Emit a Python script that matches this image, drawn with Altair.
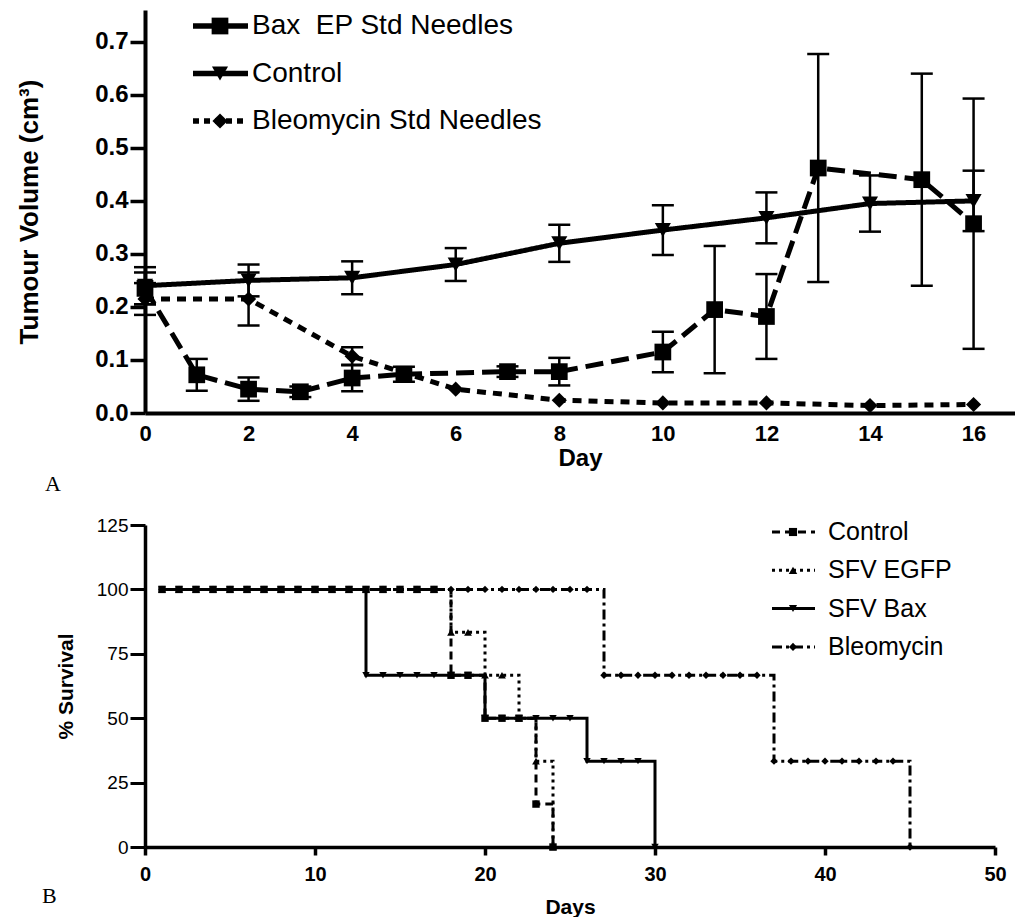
import altair as alt
import pandas as pd

FONT = "Liberation Sans"

# ---------------- Panel A : tumour volume ----------------
top_series = ["Bax EP Std Needles", "Control", "Bleomycin Std Needles"]
top_labels = ["\u00a0Bax\u00a0 EP Std Needles", "Control", "Bleomycin Std Needles"]

bax_days = [0, 1, 2, 3, 4, 5, 7, 8, 10, 11, 12, 13, 15, 16]
bax_vol = [0.235, 0.072, 0.045, 0.040, 0.066, 0.073, 0.078, 0.078, 0.115, 0.195, 0.182, 0.462, 0.440, 0.357]
bax_err = [0.030, 0.030, 0.022, 0.010, 0.025, 0.014, 0.010, 0.026, 0.038, 0.120, 0.080, 0.215, 0.200, 0.236]

ctrl_days = [0, 2, 4, 6, 8, 10, 12, 14, 16]
ctrl_vol = [0.240, 0.250, 0.255, 0.280, 0.320, 0.345, 0.368, 0.395, 0.400]
ctrl_err = [0.035, 0.030, 0.031, 0.031, 0.035, 0.047, 0.048, 0.053, 0.057]

bleo_days = [0, 2, 4, 6, 8, 10, 12, 14, 16]
bleo_vol = [0.215, 0.215, 0.107, 0.045, 0.024, 0.019, 0.019, 0.014, 0.016]
bleo_err = [0.030, 0.050, 0.017, 0.0, 0.0, 0.0, 0.0, 0.0, 0.0]

top_x_ticks = [0, 2, 4, 6, 8, 10, 12, 14, 16]
top_y_ticks = [0.0, 0.1, 0.2, 0.3, 0.4, 0.5, 0.6, 0.7]

# ---------------- Panel B : survival ----------------
surv_series = ["Control", "SFV EGFP", "SFV Bax", "Bleomycin"]
ctrl_t = [1, 18, 20, 23, 24]
ctrl_s = [100, 66.67, 50, 16.67, 0]
egfp_t = [1, 18, 20, 22, 23, 24]
egfp_s = [100, 83.33, 66.67, 50, 33.33, 0]
sbax_t = [1, 13, 20, 26, 30]
sbax_s = [100, 66.67, 50, 33.33, 0]
sbleo_t = [1, 27, 37, 45]
sbleo_s = [100, 66.67, 33.33, 0]

bot_x_ticks = [0, 10, 20, 30, 40, 50]
bot_y_ticks = [0, 25, 50, 75, 100, 125]

# ---------------- styles ----------------
dashA = {top_series[0]: [18, 8], top_series[1]: [1, 0], top_series[2]: [9, 7]}
legdashA = {top_series[0]: [1, 0], top_series[1]: [1, 0], top_series[2]: [6, 5]}
shapeA = {top_series[0]: ("square", 280), top_series[1]: ("triangle-down", 260),
          top_series[2]: ("diamond", 230)}
dashB = {"Control": [8, 5], "SFV EGFP": [3, 4], "SFV Bax": [1, 0], "Bleomycin": [10, 4, 3, 4]}
shapeB = {"Control": ("square", 55), "SFV EGFP": ("triangle-up", 60),
          "SFV Bax": ("triangle-down", 55), "Bleomycin": ("diamond", 55)}

# ---------------- tables ----------------
rows = []
for name, ds, vs, es in [
    (top_series[2], bleo_days, bleo_vol, bleo_err),
    (top_series[0], bax_days, bax_vol, bax_err),
    (top_series[1], ctrl_days, ctrl_vol, ctrl_err),
]:
    for d, v, e in zip(ds, vs, es):
        rows.append(dict(series=name, day=d, vol=v, lo=v - e, hi=v + e, err=e))
top_df = pd.DataFrame(rows)

step_rows, mark_rows = [], []
for name, ts, ss in [
    ("Bleomycin", sbleo_t, sbleo_s),
    ("SFV Bax", sbax_t, sbax_s),
    ("SFV EGFP", egfp_t, egfp_s),
    ("Control", ctrl_t, ctrl_s),
]:
    for t, s in zip(ts, ss):
        step_rows.append(dict(series=name, day=t, surv=s))
    for d in range(ts[0], ts[-1] + 1):
        idx = max(i for i, t in enumerate(ts) if t <= d)
        mark_rows.append(dict(series=name, day=d, surv=ss[idx]))
step_df = pd.DataFrame(step_rows)
mark_df = pd.DataFrame(mark_rows)


def legend_rows(names, labels, dashes, shapes, x0, x1, xm, xt, y0, dy, lw, fs, msize_scale):
    out = []
    for i, (n, lab) in enumerate(zip(names, labels)):
        y = y0 + i * dy
        ldf = pd.DataFrame({"label": [lab]})
        out.append(alt.Chart(ldf).mark_rule(color="black", strokeWidth=lw, strokeDash=dashes[n]).encode(
            x=alt.value(x0), x2=alt.value(x1), y=alt.value(y)))
        shp, sz = shapes[n]
        out.append(alt.Chart(ldf).mark_point(filled=True, color="black", opacity=1, shape=shp,
                                             size=sz * msize_scale).encode(
            x=alt.value(xm), y=alt.value(y)))
        out.append(alt.Chart(ldf).mark_text(align="left", baseline="middle", font=FONT, fontSize=fs,
                                            color="black").encode(
            x=alt.value(xt), y=alt.value(y), text="label:N"))
    return out


# ---------------- panel A chart ----------------
xA_scale = alt.Scale(domain=[0, 16.8], nice=False)
yA_scale = alt.Scale(domain=[0, 0.76], nice=False)
axA_x = alt.Axis(values=top_x_ticks, title="Day", ticks=False, tickSize=0, labelPadding=10,
                 labelFontSize=22, labelFontWeight="bold", titleFontSize=24, titleFontWeight="bold",
                 titlePadding=2, domainWidth=4, labelFlush=False, labelOverlap=False)
axA_y = alt.Axis(values=top_y_ticks, format=".1f", title="Tumour Volume (cm\u00b3)", tickSize=15,
                 tickWidth=3.5, labelPadding=2, labelFontSize=24, labelFontWeight="bold",
                 titleFontSize=26, titleFontWeight="bold", titlePadding=52, domainWidth=4,
                 labelFlush=False, labelOverlap=False)


def XA(f):
    return alt.X(f"{f}:Q", scale=xA_scale, axis=axA_x)


def YA(f):
    return alt.Y(f"{f}:Q", scale=yA_scale, axis=axA_y)


baseA = alt.Chart(top_df)
linesA = baseA.mark_line(color="black", strokeWidth=5).encode(
    x=XA("day"), y=YA("vol"),
    strokeDash=alt.StrokeDash("series:N",
                              scale=alt.Scale(domain=top_series, range=[dashA[s] for s in top_series]),
                              legend=None),
    detail="series:N",
)
errA = baseA.transform_filter("datum.err > 0").mark_rule(color="black", strokeWidth=2.5).encode(
    x=XA("day"), y=YA("lo"), y2="hi:Q")
capLoA = baseA.transform_filter("datum.err > 0").mark_tick(
    color="black", orient="horizontal", size=22, thickness=2.5, opacity=1).encode(x=XA("day"), y=YA("lo"))
capHiA = baseA.transform_filter("datum.err > 0").mark_tick(
    color="black", orient="horizontal", size=22, thickness=2.5, opacity=1).encode(x=XA("day"), y=YA("hi"))
ptsA = [
    baseA.transform_filter(alt.datum.series == s).mark_point(
        filled=True, color="black", opacity=1, shape=shapeA[s][0], size=shapeA[s][1]).encode(
        x=XA("day"), y=YA("vol"))
    for s in [top_series[2], top_series[0], top_series[1]]
]
legA = legend_rows(top_series, top_labels, legdashA, shapeA, x0=48, x1=103, xm=75, xt=107,
                   y0=16, dy=47.5, lw=5.5, fs=28, msize_scale=1.0)

chartA = alt.layer(linesA, errA, capLoA, capHiA, *ptsA, *legA).properties(
    width=870, height=403,
    title=alt.TitleParams("A", orient="bottom", anchor="start", frame="group",
                          font="Liberation Serif", fontSize=22, fontWeight="normal",
                          color="black", dx=-100, offset=4),
)

# ---------------- panel B chart ----------------
xB_scale = alt.Scale(domain=[0, 50], nice=False)
yB_scale = alt.Scale(domain=[0, 125], nice=False)
axB_x = alt.Axis(values=bot_x_ticks, title="Days", tickSize=8, tickWidth=3.5, labelPadding=9,
                 labelFontSize=20, labelFontWeight="bold", titleFontSize=21, titleFontWeight="bold",
                 titlePadding=12, domainWidth=3.5, labelFlush=False, labelOverlap=False)
axB_y = alt.Axis(values=bot_y_ticks, title="% Survival", tickSize=15, tickWidth=3, labelPadding=2,
                 labelFontSize=19, labelFontWeight="normal", titleFontSize=21, titleFontWeight="bold",
                 titlePadding=20, domainWidth=3.5, labelFlush=False, labelOverlap=False)


def XB(f):
    return alt.X(f"{f}:Q", scale=xB_scale, axis=axB_x)


def YB(f):
    return alt.Y(f"{f}:Q", scale=yB_scale, axis=axB_y)


linesB = alt.Chart(step_df).mark_line(color="black", strokeWidth=3, interpolate="step-after").encode(
    x=XB("day"), y=YB("surv"),
    strokeDash=alt.StrokeDash("series:N",
                              scale=alt.Scale(domain=surv_series, range=[dashB[s] for s in surv_series]),
                              legend=None),
    detail="series:N",
)
ptsB = [
    alt.Chart(mark_df).transform_filter(alt.datum.series == s).mark_point(
        filled=True, color="black", opacity=1, shape=shapeB[s][0], size=shapeB[s][1]).encode(
        x=XB("day"), y=YB("surv"))
    for s in ["Bleomycin", "SFV Bax", "SFV EGFP", "Control"]
]
legB = legend_rows(surv_series, surv_series, dashB, shapeB, x0=627, x1=670, xm=648, xt=683,
                   y0=7, dy=38.3, lw=3, fs=25, msize_scale=1.2)

chartB = alt.layer(linesB, *ptsB, *legB).properties(
    width=850, height=322,
    title=alt.TitleParams("B", orient="bottom", anchor="start", frame="group",
                          font="Liberation Serif", fontSize=22, fontWeight="normal",
                          color="black", dx=-103, offset=-31),
)

chart = alt.vconcat(chartA, chartB, spacing=112, bounds="flush").resolve_scale(
    strokeDash="independent"
).properties(
    padding={"left": 8, "top": 2, "right": 0, "bottom": 0}
).configure_view(stroke=None).configure_axis(
    labelFont=FONT, titleFont=FONT, domainColor="black", tickColor="black",
    labelColor="black", titleColor="black", grid=False
)

chart.save("out.html", embed_options={"renderer": "svg", "actions": False})
